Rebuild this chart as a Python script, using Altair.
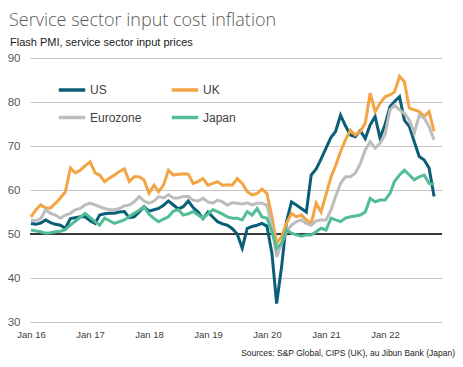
import altair as alt
import pandas as pd

# ---- data (monthly, Jan 2016 .. Nov 2022) ----
start_month = "2016-01-01"
n_months = 83

us = [52.4, 52.2, 52.5, 53.2, 52.6, 52.2, 52.0, 51.3, 53.5, 53.7, 53.9, 53.9,
      53.0, 52.4, 54.3, 54.6, 54.7, 54.7, 55.0, 55.1, 53.7, 53.9, 55.0, 56.2,
      55.2, 55.5, 55.8, 56.5, 57.5, 56.6, 55.7, 56.2, 57.5, 56.0, 55.0, 53.5,
      55.0, 53.8, 52.8, 52.3, 52.0, 51.2, 50.0, 46.8, 51.3, 51.7, 52.0, 52.4,
      51.8, 45.6, 34.2, 42.6, 52.8, 57.3, 56.6, 55.8, 55.0, 63.4, 64.8, 67.0,
      69.5, 72.0, 73.3, 77.0, 74.6, 72.5, 72.1, 73.5, 71.7, 74.8, 76.7, 71.8,
      74.8, 78.9, 80.1, 81.2, 75.9, 74.4, 71.0, 67.6, 66.8, 65.0, 58.5]

uk = [53.9, 55.5, 56.6, 55.9, 55.9, 57.0, 58.2, 59.6, 65.0, 63.9, 64.5, 65.5,
      66.4, 63.9, 63.4, 61.9, 62.7, 63.4, 64.2, 64.8, 61.9, 63.0, 63.0, 62.3,
      59.3, 61.1, 59.6, 61.1, 64.5, 63.4, 63.6, 63.7, 63.6, 61.5, 61.9, 62.6,
      61.1, 61.5, 61.9, 61.1, 61.2, 61.1, 62.6, 61.5, 59.6, 58.9, 59.2, 60.2,
      59.2, 53.9, 47.9, 49.4, 52.4, 54.7, 53.9, 54.3, 53.2, 52.4, 57.0, 55.0,
      59.0, 63.0, 65.5, 68.7, 71.4, 73.6, 72.5, 73.3, 75.2, 82.0, 77.8, 79.7,
      81.2, 81.6, 82.3, 85.8, 84.6, 78.6, 78.2, 77.8, 76.7, 77.8, 73.3]

eurozone = [53.2, 53.0, 53.5, 55.5, 54.7, 54.3, 53.6, 54.3, 54.7, 55.5, 55.8, 56.6,
            57.0, 56.6, 56.2, 55.8, 55.5, 55.5, 55.8, 56.4, 56.6, 57.3, 58.5, 57.5,
            57.0, 57.5, 58.5, 58.2, 58.9, 58.2, 58.2, 58.5, 58.5, 57.7, 57.5, 58.1,
            57.3, 57.0, 57.7, 57.3, 56.6, 57.1, 57.0, 56.8, 57.1, 56.6, 57.0, 57.0,
            56.5, 51.7, 44.8, 47.9, 50.5, 52.0, 52.8, 53.2, 52.4, 52.0, 53.0, 53.2,
            53.2, 55.5, 58.5, 61.5, 63.0, 63.0, 63.8, 66.0, 69.1, 71.0, 69.5, 70.6,
            72.5, 78.2, 79.3, 78.2, 77.4, 75.9, 72.9, 77.0, 76.3, 74.4, 71.4]

japan = [50.9, 50.7, 50.5, 50.2, 50.3, 50.5, 50.6, 51.0, 52.0, 52.9, 53.8, 54.7,
         53.8, 52.8, 52.0, 53.6, 53.0, 52.4, 52.8, 53.2, 54.0, 54.7, 55.4, 56.2,
         54.5, 53.5, 52.8, 53.4, 53.9, 55.2, 55.5, 54.3, 54.6, 55.1, 54.3, 53.6,
         54.6, 55.5, 55.1, 54.5, 53.9, 53.6, 53.6, 53.2, 55.1, 54.3, 55.8, 53.9,
         53.6, 50.5, 46.7, 47.9, 50.9, 50.2, 49.8, 49.5, 49.8, 49.8, 50.5, 51.3,
         50.9, 53.6, 53.2, 52.8, 53.6, 53.9, 54.1, 54.3, 55.0, 58.1, 57.3, 57.7,
         57.7, 59.2, 62.0, 63.4, 64.5, 63.4, 62.3, 63.0, 63.4, 61.5, 61.3]

series_names = ["US", "UK", "Eurozone", "Japan"]
series_values = [us, uk, eurozone, japan]
# legend fills column by column: US/Eurozone in column 1, UK/Japan in column 2
legend_order = ["US", "Eurozone", "UK", "Japan"]
legend_colors = ["#0b5e78", "#bdbdbd", "#f3a443", "#52bd96"]

y_ticks = [30, 40, 50, 60, 70, 80, 90]
x_tick_years = [2016, 2017, 2018, 2019, 2020, 2021, 2022]

title_text = "Service sector input cost inflation"
subtitle_text = "Flash PMI, service sector input prices"
source_text = "Sources: S&P Global, CIPS (UK), au Jibun Bank (Japan)"

months = pd.date_range(start_month, periods=n_months, freq="MS").strftime("%Y-%m-%d")
rows = []
for name, vals in zip(series_names, series_values):
    for m, v in zip(months, vals):
        rows.append({"date": m, "series": name, "value": v})
df = pd.DataFrame(rows)

FONT = "Liberation Sans"

x_scale = alt.Scale(
    type="utc",
    domain=[alt.DateTime(year=2015, month=12, date=26, utc=True),
            alt.DateTime(year=2022, month=12, date=20, utc=True)],
)
y_scale = alt.Scale(domain=[30, 90], nice=False, zero=False)

lines = alt.Chart(df).mark_line(strokeWidth=3).encode(
    x=alt.X("date:T", scale=x_scale, title=None,
            axis=alt.Axis(values=[alt.DateTime(year=y, month=1, date=1, utc=True) for y in x_tick_years],
                          labelExpr="utcFormat(datum.value, '%b %y')",
                          labelFlush=False, labelOverlap=False,
                          grid=False, domain=False,
                          ticks=False, labelFont=FONT, labelFontSize=9.5,
                          labelColor="#404040", labelPadding=7)),
    y=alt.Y("value:Q", scale=y_scale, title=None,
            axis=alt.Axis(values=y_ticks, grid=True, gridColor="#c6c6c6", gridWidth=1,
                          domain=False, ticks=False, labelFont=FONT, labelFontSize=11.5,
                          labelColor="#595959", labelPadding=10)),
    color=alt.Color("series:N",
                    scale=alt.Scale(domain=legend_order, range=legend_colors),
                    legend=alt.Legend(orient="none", legendX=27, legendY=17, columns=2,
                                      title=None, symbolType="stroke", symbolSize=700,
                                      symbolStrokeWidth=3.5, labelFont=FONT,
                                      labelFontSize=12, labelColor="#404040",
                                      labelOffset=3, columnPadding=22, rowPadding=5.5,
                                      padding=0)),
)

base_line = alt.Chart(pd.DataFrame({"v": [50]})).mark_rule(color="black", strokeWidth=1.3).encode(
    y=alt.Y("v:Q", scale=y_scale)
)

title_mark = alt.Chart(pd.DataFrame({"t": [title_text]})).mark_text(
    font="Open Sans", fontSize=18, fontWeight=300, color="#595959",
    align="left", baseline="middle"
).encode(text="t:N", x=alt.value(-21), y=alt.value(-37))

subtitle_mark = alt.Chart(pd.DataFrame({"t": [subtitle_text]})).mark_text(
    font=FONT, fontSize=11, color="#1a1a1a", align="left", baseline="middle"
).encode(text="t:N", x=alt.value(-20), y=alt.value(-15))

source_mark = alt.Chart(pd.DataFrame({"t": [source_text]})).mark_text(
    font=FONT, fontSize=8.5, color="#1a1a1a", align="right", baseline="middle"
).encode(text="t:N", x=alt.value(425), y=alt.value(295))

chart = alt.layer(base_line, lines, title_mark, subtitle_mark, source_mark).properties(
    width=412, height=264,
    padding={"left": 22, "top": 50, "right": 13, "bottom": 37},
    autosize=alt.AutoSizeParams(type="none"),
).configure_view(stroke=None)

chart.save("out.html", embed_options={"renderer": "svg", "actions": False})
